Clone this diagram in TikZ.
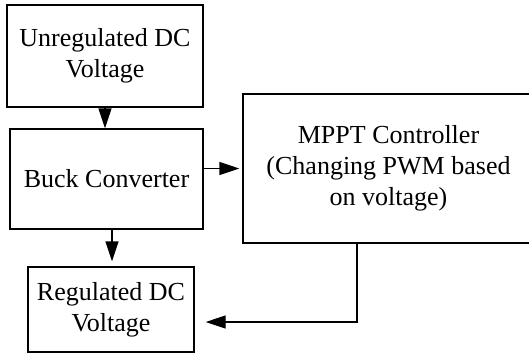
\documentclass[tikz,border=0pt]{standalone}
\usepackage{fontspec}
\setmainfont{Liberation Serif}
\usetikzlibrary{arrows.meta}

\tikzset{
  blockbox/.style={draw, line width=1.4pt, align=center, inner sep=0pt,
    font=\fontsize{26}{31}\selectfont},
  flow/.style={line width=1.4pt, -{Triangle[length=20pt,width=13pt]}}
}

\begin{document}
\begin{tikzpicture}[x=1pt, y=-1pt]
\useasboundingbox (0,0) rectangle (529,354);
\node[blockbox, minimum width=196pt, minimum height=102pt] (unreg) at (105,56) {Unregulated DC\\Voltage};
\node[blockbox, minimum width=193pt, minimum height=100pt] (buck) at (106.5,179) {Buck Converter};
\node[blockbox, minimum width=166pt, minimum height=85pt] (reg) at (111,309.5) {Regulated DC\\Voltage};
\node[blockbox, minimum width=291pt, minimum height=149pt] (mppt) at (388.5,168.5) {MPPT Controller\\(Changing PWM based\\on voltage)};
\coordinate (turn) at (357,322);
\draw[flow] (unreg.south) -- (unreg.south |- buck.north);
\draw[flow, shorten >=5pt] ([xshift=5.5pt]buck.south) -- ([xshift=5.5pt]buck.south |- reg.north);
\draw[flow, shorten >=3pt] (buck.east |- mppt.west) -- (mppt.west);
\draw[flow, shorten >=11pt] (mppt.south -| turn) -- (turn) -- (reg.east |- turn);
\end{tikzpicture}
\end{document}
